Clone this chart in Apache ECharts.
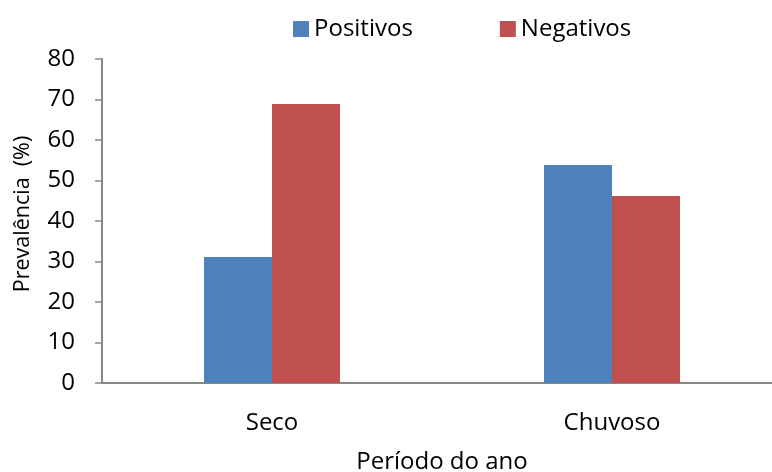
<!DOCTYPE html>
<html>
<head>
<meta charset="utf-8">
<script src="https://cdn.jsdelivr.net/npm/echarts@6/dist/echarts.min.js"></script>
<style>html,body{margin:0;padding:0;background:#fff}#c{width:772px;height:472px}</style>
</head>
<body>
<div id="c"></div>
<script>
const categories = ["Seco", "Chuvoso"];
const positivos = [31.1, 53.8];
const negativos = [68.9, 46.2];
const yTicks = [0, 10, 20, 30, 40, 50, 60, 70, 80];

const font = "'Open Sans', Lato, sans-serif";
const chart = echarts.init(document.getElementById('c'), null, {renderer: 'canvas'});
chart.setOption({
  animation: false,
  backgroundColor: '#ffffff',
  textStyle: {fontFamily: font, color: '#000'},
  legend: {
    top: 17, left: 293, padding: 0,
    itemWidth: 16, itemHeight: 16, itemGap: 87, itemTextGap: 7,
    icon: 'rect',
    textStyle: {fontSize: 24, color: '#000', fontFamily: font},
    data: ['Positivos', 'Negativos']
  },
  grid: {left: 102, right: -10, top: 59, bottom: 89, containLabel: false, outerBoundsMode: 'none'},
  xAxis: {
    type: 'category',
    data: categories,
    axisLine: {lineStyle: {color: '#878787', width: 2}},
    axisTick: {show: false},
    axisLabel: {fontSize: 24, color: '#000', margin: 28, fontFamily: font},
    name: 'Período do ano',
    nameLocation: 'middle',
    nameGap: 67,
    nameTextStyle: {fontSize: 24, color: '#000', fontFamily: font}
  },
  yAxis: {
    type: 'value',
    min: yTicks[0], max: yTicks[yTicks.length - 1], interval: 10,
    axisLine: {show: true, lineStyle: {color: '#878787', width: 2}},
    axisTick: {show: true, length: 7, lineStyle: {color: '#878787', width: 1.5}},
    splitLine: {show: false},
    axisLabel: {fontSize: 24, color: '#000', margin: 27, fontFamily: font},
    name: 'Prevalência  (%)',
    nameLocation: 'middle',
    nameGap: 68,
    nameTextStyle: {fontSize: 21.5, color: '#000', fontFamily: font, padding: [0, 0, 0, 14]}
  },
  series: [
    {name: 'Positivos', type: 'bar', data: positivos, barGap: '0%', barCategoryGap: '60%',
     itemStyle: {color: '#4F81BD'}},
    {name: 'Negativos', type: 'bar', data: negativos,
     itemStyle: {color: '#C0504D'}}
  ]
});
</script>
</body>
</html>
